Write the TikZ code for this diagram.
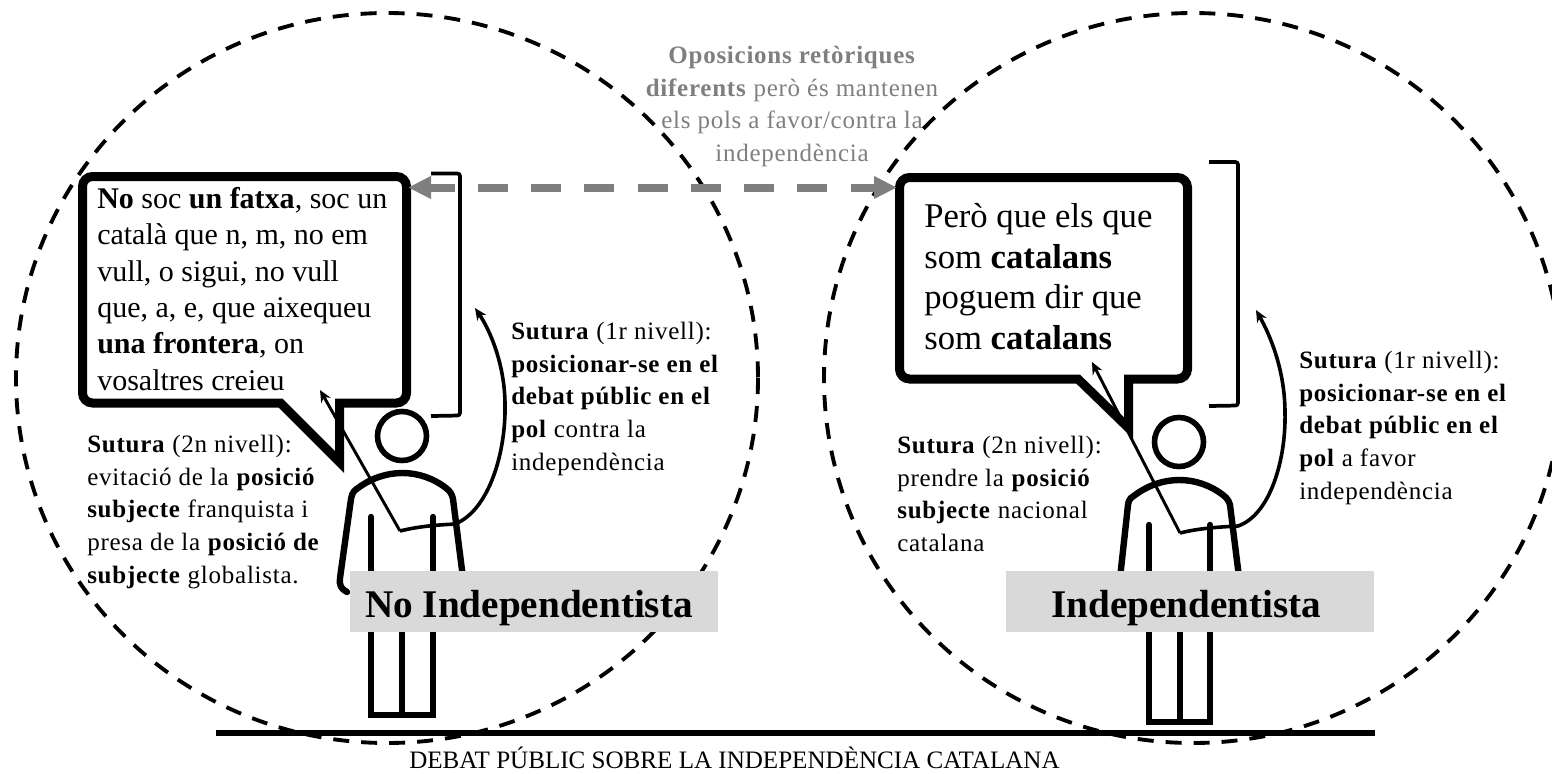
\documentclass[tikz,border=0pt]{standalone}
\usepackage{fontspec}
\setmainfont{Liberation Serif}
\usetikzlibrary{arrows.meta}
\definecolor{midgray}{HTML}{7F7F7F}
\definecolor{boxgray}{HTML}{D9D9D9}
\tikzset{
  x=0.75pt,y=-0.75pt,
  circle line/.style={line width=2.9pt,dash pattern=on 12pt off 9pt},
  bubble/.style={line width=6.75pt,fill=white,miter limit=10},
  figure line/.style={line width=4.8pt},
  thin bracket/.style={line width=2.8pt,rounded corners=2pt},
  pointer/.style={line width=2.2pt,-{Stealth[length=9pt,width=8pt]}},
  curved pointer/.style={line width=2.7pt,-{Stealth[length=9pt,width=8pt]}},
  small text/.style={inner sep=0pt,anchor=north west,align=left,font=\fontsize{18.75pt}{24.45pt}\selectfont\addfontfeature{LetterSpace=3}},
  gray text/.style={inner sep=0pt,anchor=north,align=center,text=midgray,font=\fontsize{18.75pt}{24.4pt}\selectfont\addfontfeature{LetterSpace=3}},
  tag box/.style={fill=boxgray,inner sep=0pt,minimum height=45.75pt,minimum width=276pt},
  tag text/.style={inner sep=0pt,anchor=base,font=\fontsize{29.4pt}{36pt}\selectfont\bfseries},
}
\begin{document}
\begin{tikzpicture}
\clip (0,0) rectangle (1552,774);
% discourse ellipses
\draw[circle line] (387,378) ellipse [x radius=371,y radius=365];
\draw[circle line] (1193,378) ellipse [x radius=369,y radius=365];
% ground line
\coordinate (groundL) at (216,733);
\coordinate (groundR) at (1375,733);
\draw[line width=3.8pt] (groundL) -- (groundR);
\node[inner sep=0pt,anchor=base west,font=\fontsize{18.8pt}{20pt}\selectfont] (ground) at (409,768.5) {DEBAT PÚBLIC SOBRE LA INDEPENDÈNCIA CATALANA};
% left figure
\draw[figure line,line width=4.2pt] (402,436) circle [radius=24.5];
\draw[figure line,line cap=round,line join=round] (347,592) .. controls (341,589) and (339,585) .. (340,578) -- (351,499) .. controls (352,492) and (355,490) .. (358,488) .. controls (385,468) and (420,468) .. (446,488) .. controls (450,491) and (452,494) .. (453,499) -- (463,578);
\draw[figure line,line cap=round] (371,517) -- (371,600);
\draw[figure line,line cap=round] (433,517) -- (433,600);
\draw[figure line] (371,600) -- (371,715) -- (433,715) -- (433,600);
\draw[figure line] (402,600) -- (402,715);
% right figure
\draw[figure line,line width=4.2pt] (1179,442) circle [radius=24.5];
\draw[figure line,line cap=round,line join=round] (1120,578) -- (1128,505) .. controls (1129,498) and (1132,497) .. (1135,495) .. controls (1162,475) and (1197,475) .. (1223,495) .. controls (1227,498) and (1229,501) .. (1230,505) -- (1240,585);
\draw[figure line,line cap=round] (1149,525) -- (1149,600);
\draw[figure line,line cap=round] (1210,525) -- (1210,600);
\draw[figure line] (1149,600) -- (1149,722) -- (1210,722) -- (1210,600);
\draw[figure line] (1180,600) -- (1180,722);
% speech bubbles
\draw[bubble] (280.4,403) -- (339.5,462) -- (339.5,403) -- (396.5,403) .. controls (402,403) and (406.5,398.5) .. (406.5,393) -- (406.5,186.5) .. controls (406.5,181) and (402,176.5) .. (396.5,176.5) -- (92.5,176.5) .. controls (87,176.5) and (82.5,181) .. (82.5,186.5) -- (82.5,393) .. controls (82.5,398.5) and (87,403) .. (92.5,403) -- cycle;
\draw[bubble] (1078,379) -- (1128.5,428) -- (1128.5,379) -- (1177.5,379) .. controls (1183,379) and (1187.5,374.5) .. (1187.5,369) -- (1187.5,187.5) .. controls (1187.5,182) and (1183,177.5) .. (1177.5,177.5) -- (909.5,177.5) .. controls (904,177.5) and (899.5,182) .. (899.5,187.5) -- (899.5,369) .. controls (899.5,374.5) and (904,379) .. (909.5,379) -- cycle;
% brackets
\coordinate (brL1) at (431,173.5); \coordinate (brL2) at (431,416);
\coordinate (brR1) at (1209,162); \coordinate (brR2) at (1209,406);
\draw[thin bracket] (brL1) -- (460,173.5) -- (460,415.5) -- (brL2);
\draw[thin bracket] (brR1) -- (1238,162) -- (1238,405.5) -- (brR2);
% hands and pointers
\coordinate (handL) at (400,531); \coordinate (tipLa) at (320,390); \coordinate (tipLb) at (475,308);
\coordinate (handR) at (1180,533); \coordinate (tipRa) at (1092,362); \coordinate (tipRb) at (1256,310);
\draw[pointer] (handL) -- (tipLa);
\draw[pointer] (handR) -- (tipRa);
\draw[curved pointer] (handL) .. controls (420,526) and (438,525) .. (455,524) .. controls (490,510) and (506,450) .. (505,405) .. controls (505,365) and (490,330) .. (tipLb);
\draw[curved pointer] (handR) .. controls (1200,528) and (1220,527) .. (1238,526) .. controls (1270,515) and (1286,460) .. (1285,413) .. controls (1285,370) and (1270,335) .. (tipRb);
% opposition arrow
\coordinate (oppL) at (408,187.5); \coordinate (oppR) at (897,187.5);
\draw[midgray,line width=6pt,dash pattern=on 22.5pt off 17.44pt,dash phase=3.75pt,{Triangle[length=17.25pt,width=16pt]}-{Triangle[length=17.25pt,width=16pt]}] (oppL) -- (oppR);
% texts
\node[inner sep=0pt,anchor=north west,align=left,font=\fontsize{22.5pt}{27.3pt}\selectfont] (leftquote) at (97,187) {\textbf{No} soc \textbf{un fatxa}, soc un\\català que n, m, no em\\vull, o sigui, no vull\\que, a, e, que aixequeu\\\textbf{una frontera}, on\\vosaltres creieu};
\node[inner sep=0pt,anchor=north west,align=left,font=\fontsize{26pt}{30.5pt}\selectfont] (rightquote) at (924,203) {Però que els que\\som \textbf{catalans}\\poguem dir que\\som \textbf{catalans}};
\node[small text] (suturaL2) at (87,435) {\textbf{Sutura} (2n nivell):\\evitació de la \textbf{posició}\\\textbf{subjecte} franquista i\\presa de la \textbf{posició de}\\\textbf{subjecte} globalista.};
\node[small text] (suturaL1) at (511,322) {\textbf{Sutura} (1r nivell):\\\textbf{posicionar-se en el}\\\textbf{debat públic en el}\\\textbf{pol} contra la\\independència};
\node[small text] (suturaR2) at (897,436) {\textbf{Sutura} (2n nivell):\\prendre la \textbf{posició}\\\textbf{subjecte} nacional\\catalana};
\node[small text] (suturaR1) at (1299,351) {\textbf{Sutura} (1r nivell):\\\textbf{posicionar-se en el}\\\textbf{debat públic en el}\\\textbf{pol} a favor\\independència};
\node[gray text] (oppText) at (792,46) {\textbf{Oposicions retòriques}\\\textbf{diferents} però és mantenen\\els pols a favor/contra la\\independència};
\node[tag box] (tagL) at (534,601.5) {};
\node[tag box] (tagR) at (1190,601.5) {};
\node[tag text] (tagLtext) at (529,617) {No Independentista};
\node[tag text] (tagRtext) at (1186.5,617) {Independentista};
\end{tikzpicture}
\end{document}
